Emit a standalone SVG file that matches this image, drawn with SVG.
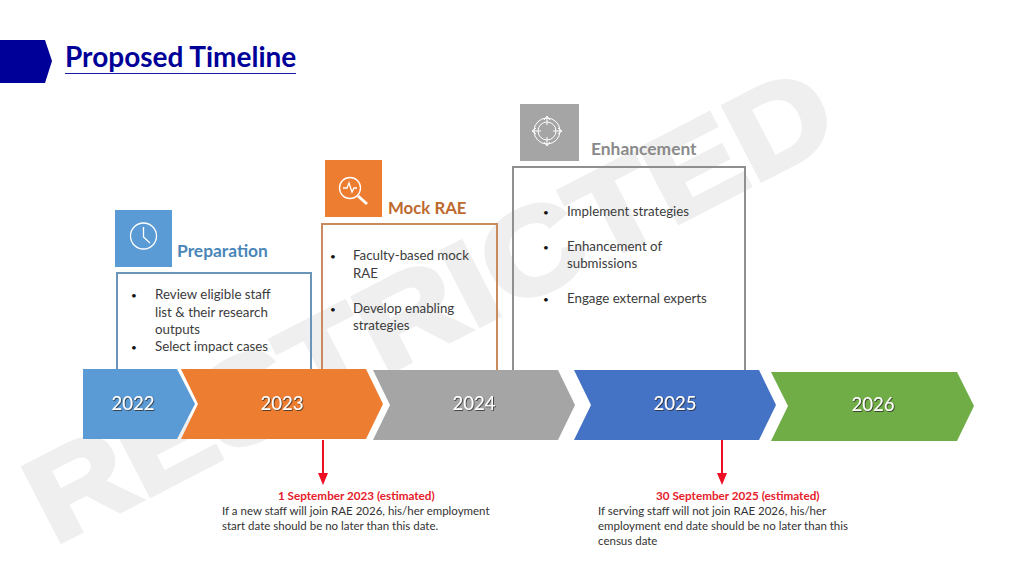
<svg xmlns="http://www.w3.org/2000/svg" width="1024" height="576" viewBox="0 0 1024 576">
<defs>
<filter id="sh" x="-20%" y="-30%" width="140%" height="160%"><feDropShadow dx="0.800" dy="0.800" stdDeviation="0.400" flood-color="#222" flood-opacity="0.900"/></filter>
</defs>
<style>
text{font-family:Lato,"Liberation Sans",sans-serif}
.b{font-size:13.300px;fill:#3c3c3c}
.d{font-size:10px;fill:#111}
.h{font-size:17.400px;font-weight:700}
.y{font-size:18.500px;fill:#fff;text-anchor:middle;filter:url(#sh)}
.r{font-size:11.700px;font-weight:700;fill:#e5202a}
.n{font-size:11.500px;fill:#333}
.box{fill:none;stroke-width:2px}
</style>
<text x="0" y="0" transform="translate(54,545) rotate(-27.300)" font-size="120" font-weight="700" fill="#efefef" stroke="#efefef" stroke-width="5" style="font-family:'Liberation Sans',sans-serif" textLength="888" lengthAdjust="spacingAndGlyphs">RESTRICTED</text>
<g id="header">
<path d="M0,40H45L52,61L45,83H0Z" fill="#000099"/>
<text x="65" y="66.500" font-size="28" font-weight="700" fill="#000099">Proposed Timeline</text>
<rect x="65" y="73" width="231" height="1" fill="#1a1aa8"/>
</g>
<g id="preparation">
<rect x="115" y="210" width="57" height="57" fill="#5b9bd5"/>
<g fill="none" stroke="#fff" stroke-width="1.300"><circle cx="143.500" cy="236" r="13"/><path d="M143.500,227V237L150,243"/></g>
<text x="177" y="257" class="h" fill="#4a86b8">Preparation</text>
<path d="M117,370V273H311V370" class="box" stroke="#6a95ba"/>
<text class="b"><tspan x="131" y="299" class="d">•</tspan><tspan x="155" y="299">Review eligible staff</tspan><tspan x="155" y="317">list &amp; their research</tspan><tspan x="155" y="334">outputs</tspan><tspan x="131" y="351" class="d">•</tspan><tspan x="155" y="351">Select impact cases</tspan></text>
</g>
<g id="mock-rae">
<rect x="325" y="160" width="57" height="57" fill="#ed7d31"/>
<g fill="none" stroke="#fff" stroke-width="1.300"><circle cx="350" cy="188" r="10.500"/><path d="M343,188H347L349,183L352,192L354,188H357"/><path d="M358,196L367,204" stroke-width="3"/></g>
<text x="388" y="214" class="h" style="font-size:16.800px" fill="#bd6a2e">Mock RAE</text>
<path d="M322,370V224H497V370" class="box" stroke="#c98a5e"/>
<text class="b"><tspan x="330" y="260" class="d">•</tspan><tspan x="353" y="260">Faculty-based mock</tspan><tspan x="353" y="278">RAE</tspan><tspan x="330" y="313" class="d">•</tspan><tspan x="353" y="313">Develop enabling</tspan><tspan x="353" y="330">strategies</tspan></text>
</g>
<g id="enhancement">
<rect x="520" y="104" width="59" height="57" fill="#a5a5a5"/>
<g fill="none" stroke="#fff" stroke-width="1"><circle cx="547" cy="131" r="13"/><circle cx="547" cy="131" r="9"/><path d="M547,117V125M547,137V145M533,131H541M553,131H561M544,120L547,116L550,120M544,142L547,146L550,142M536,128L532,131L536,134M558,128L562,131L558,134"/></g>
<text x="591" y="155" class="h" fill="#8a8a8a">Enhancement</text>
<path d="M513,370V167H745V370" class="box" stroke="#8f8f8f"/>
<text class="b"><tspan x="543" y="216" class="d">•</tspan><tspan x="567" y="216">Implement strategies</tspan><tspan x="543" y="251" class="d">•</tspan><tspan x="567" y="251">Enhancement of</tspan><tspan x="567" y="268">submissions</tspan><tspan x="543" y="303" class="d">•</tspan><tspan x="567" y="303">Engage external experts</tspan></text>
</g>
<g id="y2022"><path d="M83,369H177L195,404L177,439H83Z" fill="#5b9bd5"/><text x="133" y="410" class="y">2022</text></g>
<g id="y2023"><path d="M181,369H366L383,404L366,439H181L198,404Z" fill="#ed7d31"/><text x="282" y="410" class="y">2023</text></g>
<g id="y2024"><path d="M373,370H558L575,405L558,440H373L390,405Z" fill="#a5a5a5"/><text x="474" y="410" class="y">2024</text></g>
<g id="y2025"><path d="M574,370H759L776,405L759,440H574L591,405Z" fill="#4472c4"/><text x="675" y="410" class="y">2025</text></g>
<g id="y2026"><path d="M771,372H957L974,406L957,441H771L788,406Z" fill="#70ad47"/><text x="873" y="411" class="y">2026</text></g>
<g id="connectors" fill="none" stroke="#ee0f25" stroke-width="2">
<path d="M323,440V474"/><path d="M722,440V474"/>
<path d="M318,473H328L323,485Z" fill="#ee0f25" stroke="none"/>
<path d="M717,473H727L722,485Z" fill="#ee0f25" stroke="none"/>
</g>
<g id="note-2023">
<text x="278" y="500" class="r">1 September 2023 (estimated)</text>
<text class="n"><tspan x="222" y="515">If a new staff will join RAE 2026, his/her employment</tspan><tspan x="222" y="530">start date should be no later than this date.</tspan></text>
</g>
<g id="note-2025">
<text x="656" y="500" class="r">30 September 2025 (estimated)</text>
<text class="n"><tspan x="598" y="515">If serving staff will not join RAE 2026, his/her</tspan><tspan x="598" y="530">employment end date should be no later than this</tspan><tspan x="598" y="545">census date</tspan></text>
</g>
</svg>
